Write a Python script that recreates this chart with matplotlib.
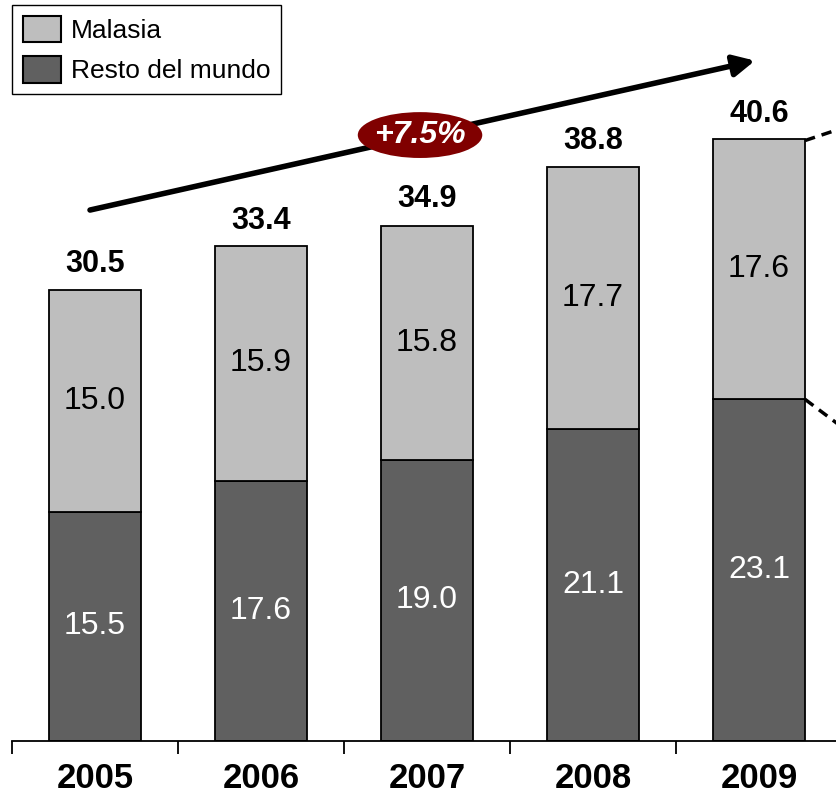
import matplotlib
matplotlib.use("Agg")
import matplotlib.pyplot as plt
from matplotlib.patches import Ellipse, Patch

plt.rcParams['font.family'] = ['Liberation Sans', 'DejaVu Sans']

years = ["2005", "2006", "2007", "2008", "2009"]
malasia = [15.0, 15.9, 15.8, 17.7, 17.6]
resto = [15.5, 17.6, 19.0, 21.1, 23.1]
totals = [30.5, 33.4, 34.9, 38.8, 40.6]
growth_label = "+7.5%"

c_malasia = "#BEBEBE"
c_resto = "#606060"

W, H, DPI = 836, 796, 100
fig = plt.figure(figsize=(W / DPI, H / DPI), dpi=DPI)

# axes spans from the first tick boundary to just past the right edge
left_px, right_px, base_px = 12, 842, 741
ax = fig.add_axes([left_px / W, (H - base_px) / H, (right_px - left_px) / W, base_px / H])

x = list(range(len(years)))
bw = 0.555
ax.bar(x, resto, width=bw, color=c_resto, edgecolor="black", linewidth=1.3, zorder=2)
ax.bar(x, malasia, width=bw, bottom=resto, color=c_malasia, edgecolor="black",
       linewidth=1.3, zorder=2)

ax.set_xlim(-0.5, 4.5)
ax.set_ylim(0, base_px / 14.79)

for xi, r, m, t in zip(x, resto, malasia, totals):
    ax.text(xi, r / 2, f"{r:.1f}", ha="center", va="center", fontsize=23, color="white", zorder=3)
    ax.text(xi, r + m / 2, f"{m:.1f}", ha="center", va="center", fontsize=23, color="black", zorder=3)
    ax.annotate(f"{t:.1f}", (xi, t), xytext=(0, 8), textcoords="offset points",
                ha="center", va="bottom", fontsize=22, fontweight="bold")

# axis styling: only the baseline with boundary ticks
for s in ("left", "right", "top"):
    ax.spines[s].set_visible(False)
ax.spines["bottom"].set_linewidth(1.3)
ax.set_yticks([])
ax.set_xticks([i - 0.5 for i in range(len(years) + 1)])
ax.set_xticklabels([])
ax.tick_params(axis="x", which="major", length=9, width=1.3, direction="out")
ax.set_xticks(x, minor=True)
ax.set_xticklabels(years, minor=True, fontsize=25, fontweight="bold")
ax.tick_params(axis="x", which="minor", length=0, pad=15)

# trend arrow with growth badge
ax.annotate("", xy=(3.976, 46.0), xytext=(-0.03, 35.9),
            arrowprops=dict(arrowstyle="-|>", lw=4, color="black", mutation_scale=32,
                            shrinkA=0, shrinkB=0), zorder=4)
ax.add_patch(Ellipse((1.958, 40.97), 0.75, 3.1, facecolor="#800000", edgecolor="none",
                     zorder=5, clip_on=False))
ax.text(1.958, 40.97, growth_label, ha="center", va="center", fontsize=23, fontweight="bold",
        fontstyle="italic", color="white", zorder=6)

# dashed connectors leaving the last bar
xe = x[-1] + bw / 2
ax.plot([xe, 4.6], [totals[-1], totals[-1] + 0.323 * 3.74], ls=(0, (3, 2)), color="black",
        lw=2.5, clip_on=False, zorder=3)
ax.plot([xe, 4.6], [resto[-1], resto[-1] - 0.323 * 8.42], ls=(0, (3, 2)), color="black",
        lw=2.5, clip_on=False, zorder=3)

handles = [Patch(facecolor=c_malasia, edgecolor="black", linewidth=1.5, label="Malasia"),
           Patch(facecolor=c_resto, edgecolor="black", linewidth=1.5, label="Resto del mundo")]
leg = fig.legend(handles=handles, loc="upper left", bbox_to_anchor=(12 / W, 1 - 5 / H),
                 fontsize=19, frameon=True, fancybox=False, edgecolor="black", framealpha=1,
                 handlelength=1.45, handleheight=1.15, handletextpad=0.35, borderpad=0.42,
                 labelspacing=0.5, borderaxespad=0)
leg.get_frame().set_linewidth(1.0)

fig.savefig("out.png", dpi=DPI)
